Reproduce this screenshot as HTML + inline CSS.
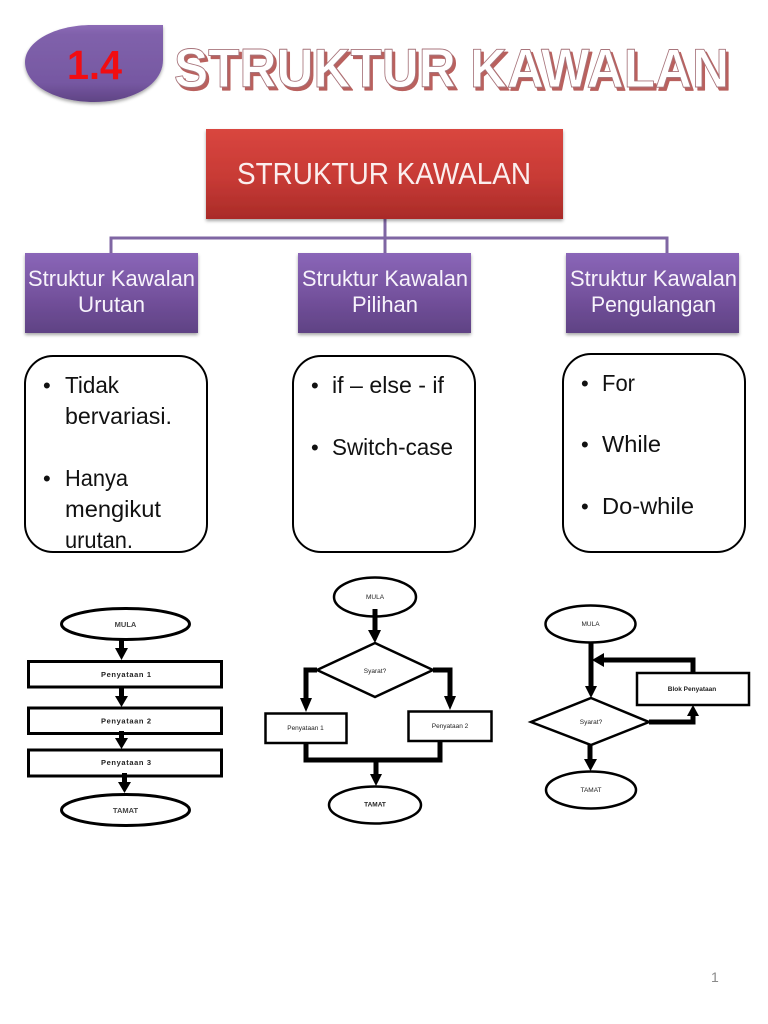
<!DOCTYPE html>
<html><head><meta charset="utf-8"><style>html,body{margin:0;padding:0;background:#fff}svg{display:block}text{font-family:"Liberation Sans",sans-serif}</style></head><body>
<svg width="768" height="1024" viewBox="0 0 768 1024" xmlns="http://www.w3.org/2000/svg">
<defs>
<linearGradient id="p" x1="0" y1="0" x2="0" y2="1"><stop offset="0" stop-color="#8a66b8"/><stop offset=".5" stop-color="#76539f"/><stop offset="1" stop-color="#5f4284"/></linearGradient>
<linearGradient id="d" x1="0" y1="0" x2="0" y2="1"><stop offset="0" stop-color="#8c6bb6"/><stop offset=".12" stop-color="#8061ab"/><stop offset=".75" stop-color="#7658a2"/><stop offset="1" stop-color="#5f4484"/></linearGradient>
<linearGradient id="r" x1="0" y1="0" x2="0" y2="1"><stop offset="0" stop-color="#d9463f"/><stop offset=".55" stop-color="#c73a35"/><stop offset="1" stop-color="#a92b28"/></linearGradient>
<filter id="s" x="-10%" y="-10%" width="120%" height="125%"><feDropShadow dx="0" dy="2" stdDeviation="1.5" flood-color="#000" flood-opacity=".35"/></filter>
<filter id="b"><feGaussianBlur stdDeviation=".35"/></filter>
</defs>
<rect width="768" height="1024" fill="#fff"/>

<path d="M163 25H92C54 25 25 42 25 62C25 85 55 102 94 102C132 102 163 85 163 60Z" fill="url(#d)" filter="url(#s)"/>
<text x="67" y="79" font-size="41" font-weight="bold" fill="#f10d12" textLength="55" lengthAdjust="spacingAndGlyphs">1.4</text>

<g font-size="55" font-weight="bold" stroke-linejoin="round">
<text x="176.500" y="90" fill="#b9615e" stroke="#b9615e" stroke-width="1.200" textLength="555" lengthAdjust="spacingAndGlyphs">STRUKTUR KAWALAN</text>
<text x="174" y="87" fill="#fff" stroke="#a8757c" stroke-width="0.900" textLength="555" lengthAdjust="spacingAndGlyphs">STRUKTUR KAWALAN</text>
</g>

<path d="M111 253V238H667V253M385 219V253" fill="none" stroke="#7f66a3" stroke-width="3"/>
<rect x="206" y="129" width="357" height="90" fill="url(#r)" filter="url(#s)"/>
<text x="237" y="184" font-size="30.500" fill="#fbeeee" textLength="294" lengthAdjust="spacingAndGlyphs">STRUKTUR KAWALAN</text>

<g fill="url(#p)" filter="url(#s)">
<rect x="25" y="253" width="173" height="80"/>
<rect x="298" y="253" width="173" height="80"/>
<rect x="566" y="253" width="173" height="80"/>
</g>
<g font-size="22" fill="#f7f3fb">
<text x="28" y="286" textLength="167" lengthAdjust="spacingAndGlyphs">Struktur Kawalan</text>
<text x="78" y="312" textLength="67" lengthAdjust="spacingAndGlyphs">Urutan</text>
<text x="302" y="286" textLength="166" lengthAdjust="spacingAndGlyphs">Struktur Kawalan</text>
<text x="352" y="312" textLength="66" lengthAdjust="spacingAndGlyphs">Pilihan</text>
<text x="570" y="286" textLength="167" lengthAdjust="spacingAndGlyphs">Struktur Kawalan</text>
<text x="591" y="312" textLength="125" lengthAdjust="spacingAndGlyphs">Pengulangan</text>
</g>

<g fill="#fff" stroke="#000" stroke-width="2">
<rect x="25" y="356" width="182" height="196" rx="28"/>
<rect x="293" y="356" width="182" height="196" rx="28"/>
<rect x="563" y="354" width="182" height="198" rx="28"/>
</g>
<g font-size="23" fill="#111">
<text x="43" y="393" font-size="22">•</text>
<text x="65" y="393" textLength="54" lengthAdjust="spacingAndGlyphs">Tidak</text>
<text x="65" y="424" textLength="107" lengthAdjust="spacingAndGlyphs">bervariasi.</text>
<text x="43" y="486" font-size="22">•</text>
<text x="65" y="486" textLength="63" lengthAdjust="spacingAndGlyphs">Hanya</text>
<text x="65" y="517" textLength="96" lengthAdjust="spacingAndGlyphs">mengikut</text>
<text x="65" y="548" textLength="68" lengthAdjust="spacingAndGlyphs">urutan.</text>
<text x="311" y="393" font-size="22">•</text>
<text x="332" y="393" textLength="112" lengthAdjust="spacingAndGlyphs">if – else - if</text>
<text x="311" y="455" font-size="22">•</text>
<text x="332" y="455" textLength="121" lengthAdjust="spacingAndGlyphs">Switch-case</text>
<text x="581" y="391" font-size="22">•</text>
<text x="602" y="391" textLength="33" lengthAdjust="spacingAndGlyphs">For</text>
<text x="581" y="452" font-size="22">•</text>
<text x="602" y="452" textLength="59" lengthAdjust="spacingAndGlyphs">While</text>
<text x="581" y="514" font-size="22">•</text>
<text x="602" y="514" textLength="92" lengthAdjust="spacingAndGlyphs">Do-while</text>
</g>

<g filter="url(#b)">
<!-- flow 1 -->
<g fill="#fff" stroke="#000" stroke-width="3">
<ellipse cx="125.500" cy="624" rx="64" ry="15.500"/>
<rect x="28.500" y="661.500" width="193" height="25.500"/>
<rect x="28.500" y="708" width="193" height="25.500"/>
<rect x="28.500" y="750" width="193" height="26"/>
<ellipse cx="125.500" cy="810" rx="64" ry="15.500"/>
</g>
<path d="M121.500 640V650M121.500 687V697M121.500 731V740M124.500 773V783" fill="none" stroke="#000" stroke-width="5"/>
<g fill="#000">
<path d="M115 648H128L121.500 660Z"/>
<path d="M115 696H128L121.500 707Z"/>
<path d="M115 738H128L121.500 749Z"/>
<path d="M118 782H131L124.500 793Z"/>
</g>
<g font-size="7.500" text-anchor="middle" fill="#222">
<text x="125.500" y="627" font-weight="bold" fill="#444">MULA</text>
<text x="126" y="677" font-weight="bold" textLength="50" lengthAdjust="spacing">Penyataan 1</text>
<text x="126" y="723.500" font-weight="bold" textLength="50" lengthAdjust="spacing">Penyataan 2</text>
<text x="126" y="765" font-weight="bold" textLength="50" lengthAdjust="spacing">Penyataan 3</text>
<text x="125.500" y="813" font-weight="bold" fill="#444">TAMAT</text>
</g>

<!-- flow 2 -->
<g fill="#fff" stroke="#000" stroke-width="2.500">
<ellipse cx="375" cy="597" rx="41" ry="19.500"/>
<path d="M375 643L433 670L375 697L317 670Z"/>
<rect x="265.500" y="713.500" width="81" height="29.500"/>
<rect x="408.500" y="711.500" width="83" height="29.500"/>
<ellipse cx="375" cy="805" rx="46" ry="18.500"/>
</g>
<path d="M375 609V632M317 670H306V698M433 670H450V696M306 743V760H440V741M376 760V775" fill="none" stroke="#000" stroke-width="5"/>
<g fill="#000">
<path d="M368 630H381L375 643Z"/>
<path d="M300 698H312L306 712Z"/>
<path d="M444 696H456L450 710Z"/>
<path d="M370 774H382L376 786Z"/>
</g>
<g font-size="6.500" text-anchor="middle" fill="#222">
<text x="375" y="599">MULA</text>
<text x="375" y="673">Syarat?</text>
<text x="305.500" y="730">Penyataan 1</text>
<text x="450" y="728">Penyataan 2</text>
<text x="375" y="806.500" font-weight="bold">TAMAT</text>
</g>

<!-- flow 3 -->
<g fill="#fff" stroke="#000" stroke-width="2.500">
<ellipse cx="590.500" cy="624" rx="45" ry="18.500"/>
<path d="M591 698L649 722L591 745L531 722Z"/>
<rect x="637" y="673" width="112" height="32"/>
<ellipse cx="591" cy="790" rx="45" ry="18.500"/>
</g>
<path d="M591 642V688M693 673V660H600M649 722H693V712M590 745V760" fill="none" stroke="#000" stroke-width="5"/>
<g fill="#000">
<path d="M585 686H597L591 698Z"/>
<path d="M604 653V667L592 660Z"/>
<path d="M687 716H699L693 705Z"/>
<path d="M584 759H597L590.500 771Z"/>
</g>
<g font-size="6.500" text-anchor="middle" fill="#222">
<text x="590.500" y="626">MULA</text>
<text x="591" y="724">Syarat?</text>
<text x="692" y="691" font-weight="bold">Blok Penyataan</text>
<text x="591" y="792">TAMAT</text>
</g>
</g>

<text x="711" y="982" font-size="14" fill="#8a8a8a">1</text>
</svg>
</body></html>
